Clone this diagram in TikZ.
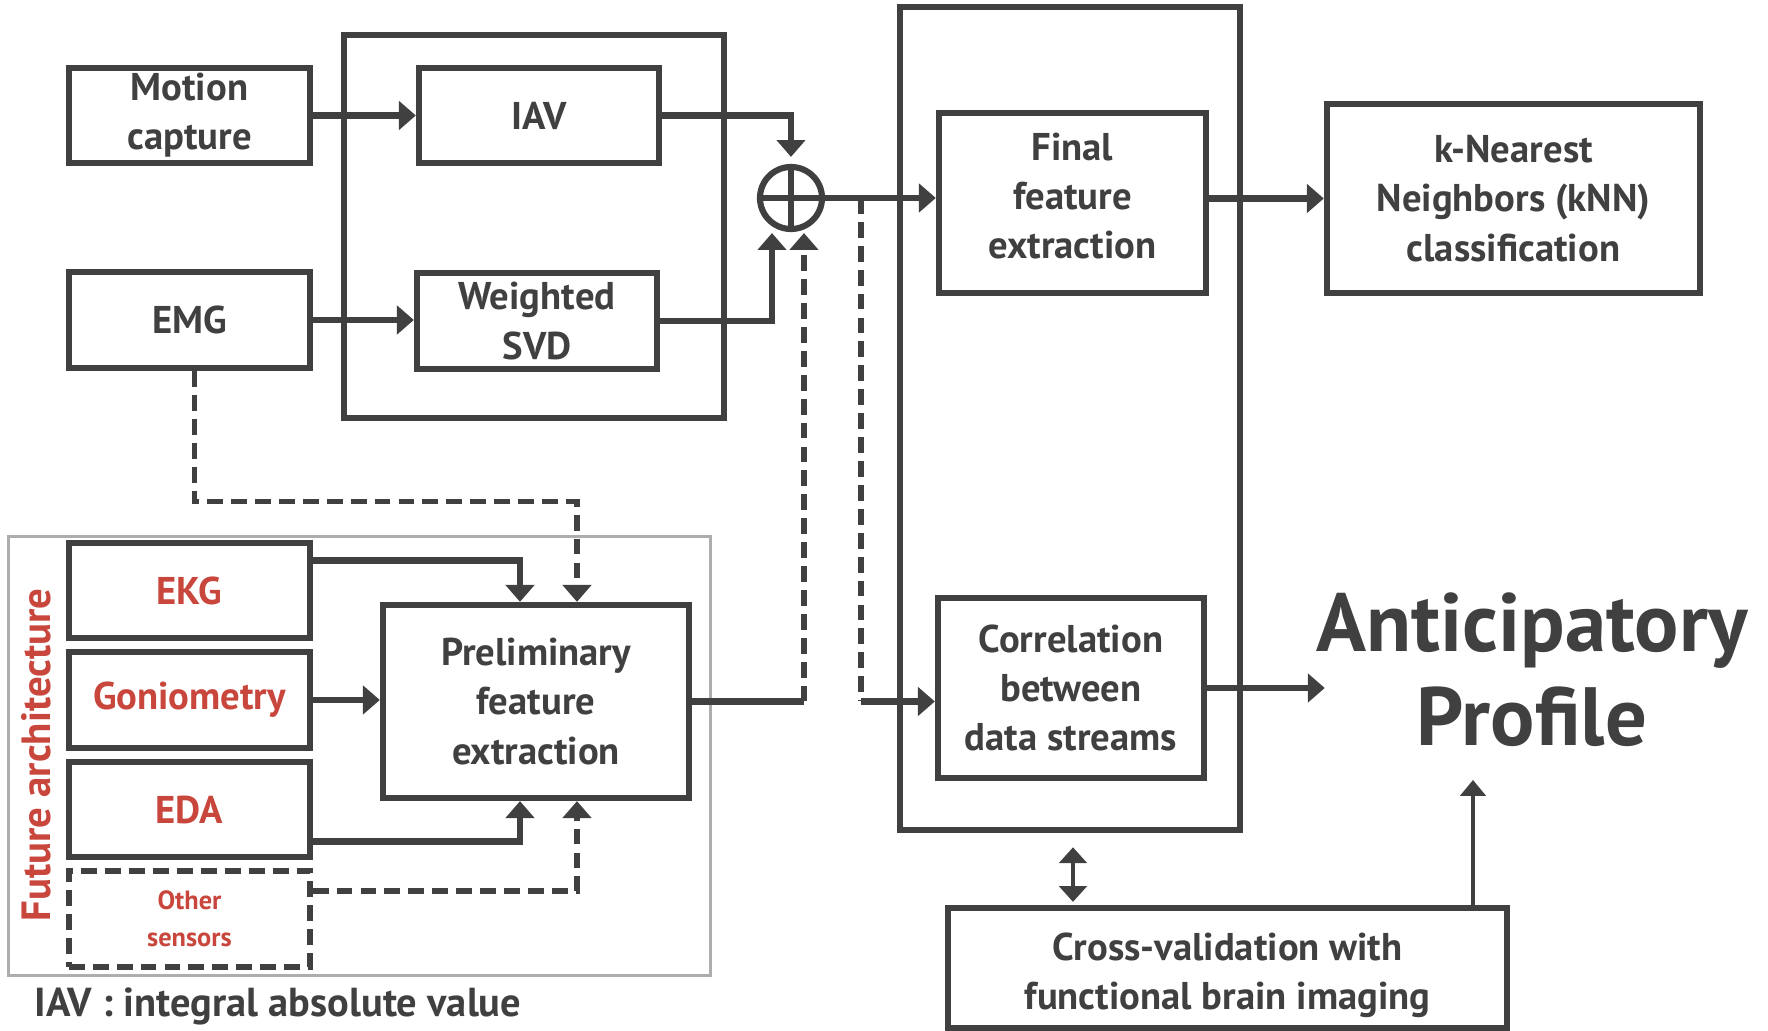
\documentclass[tikz,border=0pt]{standalone}
\usepackage{fontspec}
\setmainfont{PT Sans}
\usetikzlibrary{arrows.meta,calc}
\definecolor{dk}{HTML}{404040}
\definecolor{rd}{HTML}{C8463C}
\definecolor{fr}{HTML}{ADADAD}
\begin{document}
\begin{tikzpicture}[x=0.01cm,y=-0.01cm,
  box/.style={draw=dk,line width=1.75pt,inner sep=0pt,align=center,text=dk,font=\bfseries\fontsize{11}{14}\selectfont},
  rbox/.style={box,text=rd},
  grp/.style={draw=dk,line width=1.75pt,inner sep=0pt},
  ln/.style={draw=dk,line width=1.75pt},
  arr/.style={ln,-{Triangle[length=4.8pt,width=8pt]}},
  dl/.style={draw=dk,line width=1.5pt,dash pattern=on 4.5pt off 2.3pt},
  darr/.style={dl,-{Triangle[length=4.8pt,width=8pt]}},
  thinarr/.style={draw=dk,line width=0.9pt,-{Triangle[length=4.5pt,width=7.2pt]}},
  dbl/.style={draw=dk,line width=1.3pt,{Triangle[length=4.5pt,width=7.8pt]}-{Triangle[length=4.5pt,width=7.8pt]}}
]
\useasboundingbox (0,0) rectangle (1768,1031);
% groups
\node[grp,minimum width=3.80cm,minimum height=3.83cm] (g1) at (534,226.5) {};
\node[grp,minimum width=3.40cm,minimum height=8.23cm] (g2) at (1070,418.5) {};
\node[draw=fr,line width=0.9pt,inner sep=0pt,minimum width=7.01cm,minimum height=4.38cm] (fa) at (359.5,756) {};
% boxes
\node[box,minimum width=2.41cm,minimum height=0.95cm] (mocap) at (189.5,115.5) {Motion\\capture};
\node[box,minimum width=2.40cm,minimum height=0.95cm] (iav) at (539,115.5) {IAV};
\node[box,minimum width=2.41cm,minimum height=0.96cm] (emg) at (189.5,320) {EMG};
\node[box,minimum width=2.40cm,minimum height=0.96cm] (svd) at (537,321) {Weighted\\SVD};
\node[draw=dk,line width=1.75pt,circle,inner sep=0pt,minimum size=0.62cm] (oplus) at (791,198) {};
\draw[ln] (oplus.north) -- (oplus.south);
\draw[ln] (oplus.west) -- (oplus.east);
\node[box,minimum width=2.67cm,minimum height=1.80cm] (final) at (1072.5,203) {Final\\feature\\extraction\rule[-4pt]{0pt}{1pt}};
\node[box,minimum width=3.73cm,minimum height=1.89cm] (knn) at (1513.5,198.5) {k-Nearest\\Neighbors (kNN)\\classification};
\node[box,minimum width=2.66cm,minimum height=1.80cm] (corr) at (1071,688) {Correlation\\between\\data streams};
\node[box,minimum width=5.59cm,minimum height=1.20cm] (cross) at (1227.5,968) {\rule{0pt}{12pt}Cross-validation with\\functional brain imaging};
\node[rbox,minimum width=2.41cm,minimum height=0.95cm] (ekg) at (189.5,590.5) {EKG};
\node[rbox,minimum width=2.41cm,minimum height=0.96cm] (gonio) at (189.5,700) {Goniometry};
\node[rbox,minimum width=2.41cm,minimum height=0.95cm] (eda) at (189.5,809.5) {EDA};
\node[rbox,dl,minimum width=2.41cm,minimum height=0.96cm,font=\bfseries\fontsize{7.5}{10.5}\selectfont] (other) at (189.5,919) {Other\\sensors};
\node[box,minimum width=3.06cm,minimum height=1.93cm] (prelim) at (536,701.5) {Preliminary\\feature\\extraction};
\node[inner sep=0pt,align=center,text=dk,font=\bfseries\fontsize{23.5}{26.7}\selectfont] (ap) at (1532,670) {Anticipatory\\Profile};
\node[inner sep=0pt,rotate=90,text=rd,font=\bfseries\fontsize{11.6}{13}\selectfont] (fut) at (36,755) {Future architecture};
\node[inner sep=0pt,anchor=west,text=dk,font=\bfseries\fontsize{11.5}{14}\selectfont] (legend) at (34,1006) {IAV : integral absolute value};
% connectors
\draw[arr] (mocap.east) -- (mocap.east -| iav.west);
\draw[arr] (emg.east) -- (emg.east -| svd.west);
\draw[arr] (iav.east) -| ($(oplus.north)+(0,-7)$);
\draw[arr] (svd.east) -| ($(oplus.south)+(-19,1)$);
\coordinate (pin) at ($(oplus.south)+(13,1)$);
\draw[ln] (prelim.east) -- (prelim.east -| pin);
\draw[darr] (prelim.east -| pin) -- (pin);
\draw[arr] (oplus.east) -- (oplus.east -| final.west);
\coordinate (br) at ($(oplus.east)+(36,0)$);
\coordinate (cj) at (br |- prelim.east);
\draw[dl] (br) -- (cj);
\draw[arr] (cj) -- (cj -| corr.west);
\draw[arr] (knn.west -| final.east) -- (knn.west);
\draw[arr] (corr.east) -- ($(corr.east -| ap.west)+(9,0)$);
\draw[dbl] ($(g2.south -| corr)+(2,14)$) -- ($(cross.north -| corr)+(2,-3)$);
\coordinate (apin) at (1473,780);
\draw[thinarr] (cross.north -| apin) -- (apin);
\draw[arr] ($(ekg.east)+(0,-30)$) -| ($(prelim.north)+(-16,0)$);
\draw[darr] ($(emg.south)+(5,0)$) |- ($(prelim.north)+(41,-100)$) -- ($(prelim.north)+(41,0)$);
\draw[arr] (gonio.east) -- (gonio.east -| prelim.west);
\draw[arr] ($(eda.east)+(0,32)$) -| ($(prelim.south)+(-16,0)$);
\draw[darr] ($(other.east)+(0,-28)$) -| ($(prelim.south)+(41,0)$);
\end{tikzpicture}
\end{document}
